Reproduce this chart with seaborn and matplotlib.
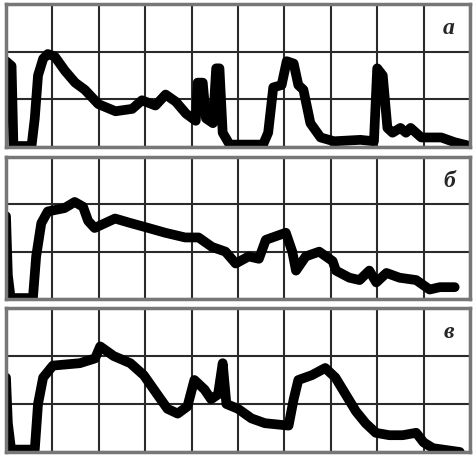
import numpy as np
import pandas as pd
import matplotlib.pyplot as plt
import seaborn as sns

# traces, in grid units (x: 0..10 columns, y: 0..3 rows)
x_a = [0, 0.12, 0.16, 0.55, 0.62, 0.69, 0.8, 0.9, 1.05, 1.27, 1.49, 1.7, 1.99, 2.36,
       2.72, 2.93, 3.22, 3.44, 3.66, 3.88, 4.09, 4.13, 4.24, 4.31, 4.46, 4.53, 4.6,
       4.67, 4.82, 5.04, 5.54, 5.65, 5.76, 5.94, 6.05, 6.2, 6.3, 6.41, 6.56, 6.78,
       7.07, 7.64, 7.93, 8.0, 8.12, 8.22, 8.33, 8.5, 8.62, 8.72, 8.95, 9.38, 9.67, 9.96]
y_a = [1.8, 1.7, 0.02, 0.02, 0.6, 1.5, 1.85, 1.95, 1.9, 1.6, 1.35, 1.2, 0.9, 0.75,
       0.8, 0.98, 0.87, 1.1, 0.95, 0.7, 0.55, 1.35, 1.35, 0.6, 0.5, 1.65, 1.65,
       0.3, 0.05, 0.05, 0.05, 0.3, 1.25, 1.3, 1.8, 1.75, 1.3, 1.2, 0.5, 0.2,
       0.12, 0.15, 0.12, 1.65, 1.5, 0.4, 0.3, 0.4, 0.3, 0.4, 0.2, 0.2, 0.1, 0.03]

x_b = [0, 0.04, 0.1, 0.58, 0.65, 0.76, 0.9, 1.26, 1.48, 1.66, 1.77, 1.91, 2.35, 2.7,
       3.07, 3.43, 3.86, 4.15, 4.44, 4.73, 4.95, 5.23, 5.45, 5.6, 6.03, 6.17, 6.25,
       6.46, 6.75, 7.04, 7.11, 7.4, 7.62, 7.83, 7.98, 8.2, 8.48, 8.84, 9.13, 9.35, 9.67]
y_b = [1.75, 0.5, 0.02, 0.02, 0.9, 1.6, 1.85, 1.92, 2.05, 1.95, 1.65, 1.5, 1.7, 1.6,
       1.5, 1.4, 1.3, 1.3, 1.1, 1.0, 0.75, 0.9, 0.85, 1.25, 1.4, 1.0, 0.6,
       0.9, 1.0, 0.8, 0.6, 0.45, 0.4, 0.6, 0.35, 0.55, 0.45, 0.4, 0.2, 0.25, 0.25]

x_c = [0, 0.04, 0.11, 0.62, 0.69, 0.8, 1.01, 1.59, 1.92, 2.03, 2.32, 2.68, 2.97, 3.26,
       3.48, 3.7, 3.91, 4.06, 4.28, 4.42, 4.57, 4.67, 4.75, 5.0, 5.29, 5.58, 6.09,
       6.2, 6.3, 6.59, 6.88, 7.1, 7.32, 7.54, 7.75, 7.97, 8.26, 8.55, 8.84, 9.0, 9.2, 9.78]
y_c = [1.55, 0.6, 0.05, 0.05, 1.0, 1.55, 1.8, 1.85, 1.95, 2.2, 2.0, 1.85, 1.6, 1.2,
       0.9, 0.8, 0.95, 1.5, 1.3, 1.1, 1.2, 1.85, 1.0, 0.9, 0.7, 0.6, 0.55,
       1.1, 1.5, 1.6, 1.75, 1.55, 1.2, 0.85, 0.6, 0.4, 0.35, 0.35, 0.4, 0.2, 0.08, 0.0]

panel_labels = ['a', 'б', 'в']


def draw_panel(ax, x, y, label):
    df = pd.DataFrame({'x': x, 'y': y})
    sns.lineplot(data=df, x='x', y='y', ax=ax, sort=False, color='black',
                 linewidth=7, solid_joinstyle='round', solid_capstyle='round')
    ax.set_xlim(0, 10)
    ax.set_ylim(0, 3)
    ax.set_xticks(np.arange(0, 11))
    ax.set_yticks(np.arange(0, 4))
    ax.grid(True, color='#2a2a2a', linewidth=1.5)
    ax.set_axisbelow(True)
    ax.tick_params(length=0, labelbottom=False, labelleft=False)
    ax.set_xlabel('')
    ax.set_ylabel('')
    for sp in ax.spines.values():
        sp.set_color('#777777')
        sp.set_linewidth(2.5)
    ax.text(0.955, 0.83, label, transform=ax.transAxes, ha='center', va='center',
            fontsize=17, fontweight='bold', fontstyle='italic',
            family=['Liberation Serif', 'DejaVu Serif'])


sns.set_style('white')
fig = plt.figure(figsize=(4.73, 4.58), dpi=100)
boxes = [
    [6 / 473, 311 / 458, 464 / 473, 143 / 458],
    [6 / 473, 159 / 458, 464 / 473, 142 / 458],
    [6 / 473, 6 / 458, 464 / 473, 144 / 458],
]
for box, x, y, lab in zip(boxes, [x_a, x_b, x_c], [y_a, y_b, y_c], panel_labels):
    ax = fig.add_axes(box)
    draw_panel(ax, x, y, lab)

fig.savefig('out.png', dpi=100)
